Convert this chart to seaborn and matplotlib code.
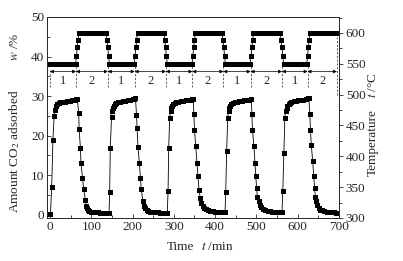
import numpy as np
import pandas as pd
import matplotlib as mpl
mpl.use("Agg")
import matplotlib.pyplot as plt
import seaborn as sns

sns.set_style("ticks")
plt.rcParams['font.family'] = ['Liberation Serif', 'DejaVu Serif']
plt.rcParams['mathtext.fontset'] = 'stix'

# CO2 adsorbed (left axis), five cycles
co2_time = [
    1, 4, 7, 10, 12, 14, 16, 18, 21, 25, 30, 36, 42, 48, 54, 60, 63, 66,
    69.5, 70.5, 73.5, 75, 78.5, 81.5, 85.5, 88, 90, 92, 95, 99, 104, 110, 116, 122, 128, 134, 140, 143,
    144.5, 146, 149, 151, 153, 155, 158, 161, 165, 170, 176, 182, 188, 194, 200, 204, 207,
    209.5, 211, 213, 216.5, 219, 221, 225, 228, 231, 234, 238, 243, 249, 255, 261, 267, 273, 279, 284,
    286, 287.5, 290, 292, 294, 296, 299, 302, 306, 311, 317, 323, 329, 335, 341, 345, 347,
    348.5, 350, 353, 356, 358.5, 361, 364, 367, 370, 373, 377, 382, 388, 394, 400, 406, 412, 418, 424,
    425.7, 428, 430.5, 432.5, 434.5, 436.5, 439.5, 443, 447, 452, 458, 464, 470, 476, 482, 486, 488,
    489, 490.5, 494, 496.5, 498.5, 500.5, 502.5, 506, 509, 512, 516, 521, 527, 533, 539, 545, 551, 557, 562,
    564, 566.5, 569, 571, 573, 575, 578, 581, 585, 590, 596, 602, 608, 614, 620, 624, 627,
    629.5, 631, 633, 636.5, 639, 641, 643, 645, 648, 651, 655, 659, 664, 670, 676, 682, 688, 692,
]
co2_amount = [
    0.2, 7.0, 19.0, 25.0, 26.6, 27.4, 27.9, 28.1, 28.3, 28.4, 28.5, 28.6, 28.7, 28.8, 28.9, 29.1, 29.2, 29.3,
    25.7, 21.6, 17.0, 13.0, 9.4, 6.5, 3.8, 2.3, 1.7, 1.3, 1.0, 0.8, 0.7, 0.6, 0.6, 0.5, 0.5, 0.5, 0.4, 0.4,
    5.8, 17.0, 24.7, 26.3, 27.1, 27.6, 28.0, 28.2, 28.4, 28.6, 28.7, 28.8, 28.9, 29.0, 29.2, 29.3, 29.5,
    25.3, 21.9, 17.2, 13.0, 9.3, 6.5, 3.4, 2.2, 1.6, 1.2, 1.0, 0.8, 0.7, 0.6, 0.6, 0.5, 0.5, 0.4, 0.4,
    5.9, 17.0, 24.5, 26.3, 27.1, 27.6, 28.0, 28.2, 28.4, 28.6, 28.7, 28.8, 28.9, 29.0, 29.1, 29.2, 29.3,
    25.5, 21.5, 17.4, 13.0, 9.7, 6.3, 4.2, 3.0, 2.3, 1.8, 1.4, 1.1, 1.0, 0.9, 0.8, 0.8, 0.7, 0.7, 0.6,
    5.7, 16.0, 24.5, 26.3, 27.1, 27.6, 28.0, 28.2, 28.4, 28.6, 28.7, 28.8, 28.9, 29.0, 29.1, 29.2, 29.3,
    25.5, 21.5, 17.4, 13.2, 9.7, 6.7, 4.6, 3.4, 2.5, 1.9, 1.5, 1.2, 1.0, 0.9, 0.8, 0.8, 0.7, 0.7, 0.6,
    5.9, 15.7, 24.5, 26.3, 27.1, 27.6, 28.0, 28.3, 28.5, 28.7, 28.8, 28.9, 29.0, 29.1, 29.3, 29.4, 29.5,
    25.5, 21.5, 17.7, 13.5, 9.7, 6.7, 4.6, 3.4, 2.4, 1.7, 1.3, 1.1, 0.9, 0.8, 0.7, 0.6, 0.6, 0.5,
]

# temperature programme (right axis)
temp_time = [
    0, 5, 10, 15, 20, 25, 30, 35, 40, 45, 50, 55, 60, 62,
    64, 66, 68,
    70, 75, 80, 85, 90, 95, 100, 105, 110, 115, 120, 125, 130, 134, 136,
    138, 140, 142,
    144, 150, 155, 160, 165, 170, 175, 180, 185, 190, 195, 200, 204,
    206, 208, 210,
    212, 217, 222, 227, 232, 237, 242, 247, 252, 257, 262, 267, 272, 276,
    278, 280, 282,
    284, 290, 295, 300, 305, 310, 315, 320, 325, 330, 335, 340, 344,
    346, 348, 350,
    352, 357, 362, 367, 372, 377, 382, 387, 392, 397, 402, 407, 412, 417,
    419, 421, 423,
    425, 430, 435, 440, 445, 450, 455, 460, 465, 470, 475, 480, 485,
    487, 489, 491,
    493, 498, 503, 508, 513, 518, 523, 528, 533, 538, 543, 548, 553, 558,
    560, 562, 564,
    566, 571, 576, 581, 586, 591, 596, 601, 606, 611, 616, 622,
    624, 626, 628,
    630, 635, 640, 645, 650, 655, 660, 665, 670, 675, 680, 685, 690, 695,
]
temp_value = [
    550, 550, 550, 550, 550, 550, 550, 550, 550, 550, 550, 550, 550, 550,
    562, 577, 589,
    600, 600, 600, 600, 600, 600, 600, 600, 600, 600, 600, 600, 600, 600, 600,
    589, 577, 562,
    550, 550, 550, 550, 550, 550, 550, 550, 550, 550, 550, 550, 550,
    562, 577, 589,
    600, 600, 600, 600, 600, 600, 600, 600, 600, 600, 600, 600, 600, 600,
    589, 577, 562,
    550, 550, 550, 550, 550, 550, 550, 550, 550, 550, 550, 550, 550,
    562, 577, 589,
    600, 600, 600, 600, 600, 600, 600, 600, 600, 600, 600, 600, 600, 600,
    589, 577, 562,
    550, 550, 550, 550, 550, 550, 550, 550, 550, 550, 550, 550, 550,
    562, 577, 589,
    600, 600, 600, 600, 600, 600, 600, 600, 600, 600, 600, 600, 600, 600,
    589, 577, 562,
    550, 550, 550, 550, 550, 550, 550, 550, 550, 550, 550, 550,
    562, 577, 589,
    600, 600, 600, 600, 600, 600, 600, 600, 600, 600, 600, 600, 600, 600,
]

# stage boundaries and stage numbers
stage_edges = [0, 63, 140, 205, 281, 345, 420, 486, 562, 624, 695]
stage_labels = ['1', '2', '1', '2', '1', '2', '1', '2', '1', '2']

co2 = pd.DataFrame({'t': co2_time, 'w': co2_amount})
temp = pd.DataFrame({'t': temp_time, 'T': temp_value})

fig = plt.figure(figsize=(4.03, 2.61), dpi=100)
ax = fig.add_axes([0.117, 0.165, 0.724, 0.770])
ax2 = ax.twinx()

sns.lineplot(data=co2, x='t', y='w', ax=ax, color='black', lw=0.6, marker='s',
             markersize=3.6, markeredgewidth=0, estimator=None, sort=False)
sns.lineplot(data=temp, x='t', y='T', ax=ax2, color='black', lw=0.6, marker='s',
             markersize=3.6, markeredgewidth=0, estimator=None, sort=False)

ax.set_xlim(-7, 700)
ax.set_ylim(-0.8, 50)
ax2.set_ylim(300, 626)

# stage markers: dashed separators, arrows and numbers
for i, e in enumerate(stage_edges):
    if i == 0:
        ax.plot([e, e], [32.2, 36.8], ls=(0, (2.5, 2)), color='#444', lw=0.6)
    elif i == len(stage_edges) - 1:
        ax.plot([e, e], [30.3, 45.0], ls=(0, (2.5, 2)), color='#444', lw=0.6)
    else:
        ax.plot([e, e], [32.2, 38.2], ls=(0, (2.5, 2)), color='#444', lw=0.6)
for a, b, lab in zip(stage_edges[:-1], stage_edges[1:], stage_labels):
    ax.annotate('', xy=(a, 36.2), xytext=(b, 36.2),
                arrowprops=dict(arrowstyle='<|-|>', color='black', lw=0.5,
                                mutation_scale=5, shrinkA=0, shrinkB=0))
    ax.text((a + b) / 2, 33.9, lab, ha='center', va='center', fontsize=9)

ax.set_xticks(range(0, 701, 100))
ax.set_xticks(range(50, 701, 100), minor=True)
ax.set_yticks(range(0, 51, 10))
ax.set_yticks(range(5, 51, 10), minor=True)
ax2.set_yticks(range(300, 601, 50))
ax2.set_yticks(range(325, 626, 50), minor=True)

ax.tick_params(axis='both', which='major', direction='in', length=3, width=0.6,
               labelsize=9.5, pad=2)
ax.tick_params(axis='both', which='minor', direction='in', length=2, width=0.6)
ax.tick_params(top=False, right=False, which='both')
ax2.tick_params(axis='y', which='major', direction='out', length=3, width=0.6,
                labelsize=9.5, pad=2)
ax2.tick_params(axis='y', which='minor', direction='out', length=2, width=0.6)

ax.set_xlabel('')
ax.set_ylabel('')
ax2.set_ylabel('')
for s in ax.spines.values():
    s.set_linewidth(0.6)
for s in ax2.spines.values():
    s.set_linewidth(0.6)

fig.text(0.037, 0.82, '$w$ /%', rotation=90, ha='center', va='center', fontsize=9.5)
fig.text(0.037, 0.421, 'Amount CO$_2$ adsorbed', rotation=90, ha='center', va='center', fontsize=9.5)
fig.text(0.925, 0.674, '$t$ /°C', rotation=90, ha='center', va='center', fontsize=9.5)
fig.text(0.925, 0.452, 'Temperature', rotation=90, ha='center', va='center', fontsize=9.5)
fig.text(0.449, 0.054, 'Time', ha='center', va='center', fontsize=9.5)
fig.text(0.54, 0.054, '$t$ /min', ha='center', va='center', fontsize=9.5)

fig.savefig('out.png', dpi=100)
